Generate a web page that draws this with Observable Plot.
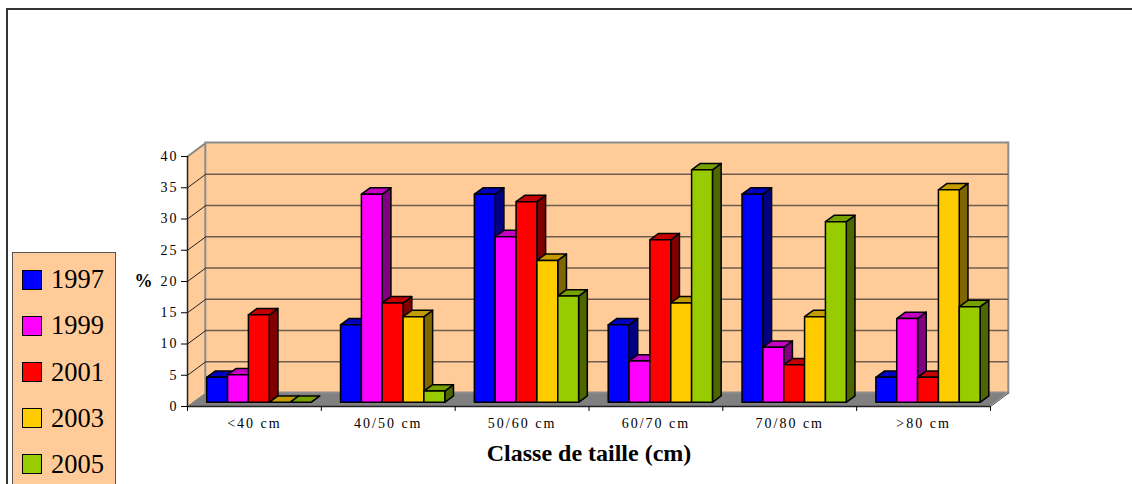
<!DOCTYPE html>
<html>
<head>
<meta charset="utf-8">
<script src="https://cdn.jsdelivr.net/npm/d3@7"></script>
<script src="https://cdn.jsdelivr.net/npm/@observablehq/plot@0.6"></script>
<style>
  body { margin: 0; background: #fff; }
  #wrap { position: relative; width: 1132px; height: 484px; overflow: hidden; background: #fff; }
  #wrap svg { position: absolute; left: 0; top: 0; }
  #frame { position: absolute; left: 6px; top: 8px; width: 1200px; height: 600px;
           border-left: 2px solid #333; border-top: 2px solid #333; pointer-events: none; }
  #legend { position: absolute; left: 12px; top: 252px; width: 102px; height: 300px;
            background: #ffcc99; border: 1px solid #555; font-family: "Liberation Serif", serif; }
  .item { position: absolute; left: 0; height: 30px; display: flex; align-items: center; }
  .sw { width: 18px; height: 18px; border: 1.5px solid #000; margin-left: 9px; margin-right: 9px; }
  .lab { font-size: 26.5px; color: #000; }
</style>
</head>
<body>
<div id="wrap">
  <div id="frame"></div>
  <div id="legend"></div>
</div>
<script>
// ---------- data ----------
const categories = ["<40 cm", "40/50 cm", "50/60 cm", "60/70 cm", "70/80 cm", ">80 cm"];
const years = ["1997", "1999", "2001", "2003", "2005"];
const v1997 = [4.0, 12.4, 33.3, 12.4, 33.3, 4.0];
const v1999 = [4.4, 33.3, 26.5, 6.6, 8.8, 13.4];
const v2001 = [14.0, 15.9, 32.1, 26.0, 6.0, 4.0];
const v2003 = [0, 13.7, 22.7, 15.9, 13.7, 34.0];
const v2005 = [0, 1.8, 17.0, 37.2, 28.9, 15.3];
const yTicks = [0, 5, 10, 15, 20, 25, 30, 35, 40];
const xTitle = "Classe de taille (cm)";
const yTitle = "%";

// ---------- styles ----------
const series = [v1997, v1999, v2001, v2003, v2005];
const colors = ["#0000ff", "#ff00ff", "#ff0000", "#ffcc00", "#99cc00"];
const topColors = ["#0000c0", "#c400c4", "#c40000", "#c49c00", "#76a000"];
const sideColors = ["#000080", "#800080", "#800000", "#806600", "#4d6600"];

const W = 1132, H = 484, mL = 187, mR = 142, mT = 156, mB = 78;
const xMax = categories.length, yMax = d3.max(yTicks);
const kx = xMax / (W - mL - mR);   // data units per pixel (x)
const ky = yMax / (H - mT - mB);   // data units per pixel (y)
const WDX = 18.3 * kx, WDY = 13.5 * ky;   // wall depth
const BDX = 8.7 * kx, BDY = 6.4 * ky;     // bar depth
const BASE = 3.7 * ky;                    // bar set-back on floor
const GOFF = 19.7 * kx, BW = 20.85 * kx;  // group offset, bar width

const SW = 1.5, SK = "#000";

const marks = [
  // floor
  Plot.areaX([{y: 0, a: 0, b: xMax}, {y: WDY, a: WDX, b: xMax + WDX}],
    {y: "y", x1: "a", x2: "b", fill: "#808080"}),
  // left side wall
  Plot.areaY([{x: 0, a: 0, b: yMax}, {x: WDX, a: WDY, b: yMax + WDY}],
    {x: "x", y1: "a", y2: "b", fill: "#ffcc99"}),
  Plot.link([0], {x1: () => 0, y1: () => yMax, x2: () => WDX, y2: () => yMax + WDY, stroke: "#888", strokeWidth: 2}),
  // back wall
  Plot.rect([0], {x1: () => WDX, x2: () => xMax + WDX, y1: () => WDY, y2: () => yMax + WDY,
    fill: "#ffcc99", stroke: "#8c8c8c", strokeWidth: 2}),
  // gridlines on back wall
  Plot.ruleY(yTicks.filter(t => t > 0 && t < yMax),
    {y: t => t + WDY, x1: () => WDX, x2: () => xMax + WDX, stroke: "#6e5d4c", strokeWidth: 1.3}),
  // diagonals on side wall
  Plot.link(yTicks.filter(t => t > 0 && t < yMax),
    {x1: () => 0, y1: t => t, x2: () => WDX, y2: t => t + WDY, stroke: "#222", strokeWidth: 1}),
  // floor right edge
  Plot.link([0], {x1: () => xMax, y1: () => 0, x2: () => xMax + WDX, y2: () => WDY, stroke: "#444", strokeWidth: 1}),
];

// bars: per series, side / top / front
series.forEach((vals, j) => {
  const rows = vals.map((v, i) => ({i, v, x1: i + GOFF + j * BW, x2: i + GOFF + (j + 1) * BW}));
  marks.push(
    Plot.areaY(rows.flatMap(d => [
      {i: d.i, x: d.x2, a: BASE, b: BASE + d.v},
      {i: d.i, x: d.x2 + BDX, a: BASE + BDY, b: BASE + d.v + BDY}
    ]), {x: "x", y1: "a", y2: "b", z: "i", fill: sideColors[j], stroke: SK, strokeWidth: SW, strokeLinejoin: "round"}),
    Plot.areaX(rows.flatMap(d => [
      {i: d.i, y: BASE + d.v, a: d.x1, b: d.x2},
      {i: d.i, y: BASE + d.v + BDY, a: d.x1 + BDX, b: d.x2 + BDX}
    ]), {y: "y", x1: "a", x2: "b", z: "i", fill: topColors[j], stroke: SK, strokeWidth: SW, strokeLinejoin: "round"}),
    Plot.rect(rows, {x1: "x1", x2: "x2", y1: () => BASE, y2: d => BASE + d.v,
      fill: colors[j], stroke: SK, strokeWidth: SW, strokeLinejoin: "round"})
  );
});

marks.push(
  // axis lines
  Plot.ruleX([0], {y1: () => 0, y2: () => yMax, stroke: "#222", strokeWidth: 1.5}),
  Plot.ruleY([0], {x1: () => 0, x2: () => xMax, stroke: "#222", strokeWidth: 1.5}),
  Plot.axisY(yTicks, {tickSize: 6, tickPadding: 3, fontSize: 14, label: null, color: "#000"}),
  Plot.axisX(d3.range(0, xMax + 1), {tickSize: 5, tickFormat: () => "", label: null, color: "#000"}),
  Plot.text(categories, {x: (d, i) => i + 0.5, text: d => d, frameAnchor: "bottom", dy: 21,
    fontSize: 14, fill: "#000"}),
  Plot.text([xTitle], {frameAnchor: "bottom", dy: 54, text: d => d, fontSize: 24, fontWeight: "bold", fill: "#000"}),
  Plot.text([yTitle], {frameAnchor: "left", dx: -53, text: d => d, fontSize: 18, fontWeight: "bold", fill: "#000"})
);

const chart = Plot.plot({
  width: W, height: H,
  marginLeft: mL, marginRight: mR, marginTop: mT, marginBottom: mB,
  x: {type: "linear", domain: [0, xMax], axis: null},
  y: {type: "linear", domain: [0, yMax]},
  style: {fontFamily: "Liberation Serif, serif", background: "transparent", overflow: "visible"},
  marks
});
const wrap = document.getElementById("wrap");
wrap.insertBefore(chart, wrap.firstChild);

// widen spacing of tick and category labels (as in the original)
const spaced = new Set([...categories, ...yTicks.map(String)]);
chart.querySelectorAll("text").forEach(t => {
  if (spaced.has(t.textContent)) t.style.letterSpacing = "2px";
});

// legend
const legend = document.getElementById("legend");
years.forEach((y, i) => {
  const it = document.createElement("div");
  it.className = "item";
  it.style.top = (11.6 + i * 46.2) + "px";
  it.innerHTML = `<div class="sw" style="background:${colors[i]}"></div><span class="lab">${y}</span>`;
  legend.appendChild(it);
});
</script>
</body>
</html>
